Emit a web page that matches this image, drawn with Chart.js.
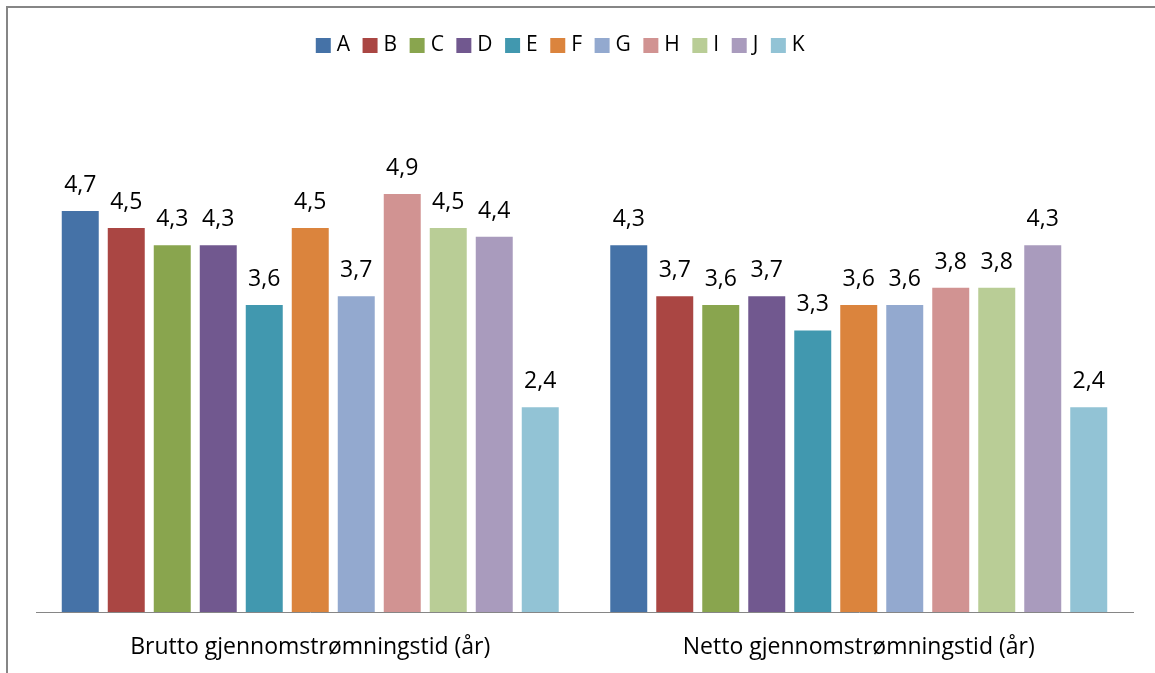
<!DOCTYPE html>
<html>
<head>
<meta charset="utf-8">
<script src="https://cdn.jsdelivr.net/npm/chart.js@4.4.1/dist/chart.umd.min.js"></script>
<style>
  html, body { margin: 0; padding: 0; background: #ffffff; }
  #wrap { width: 1155px; height: 673px; position: relative; }
</style>
</head>
<body>
<div id="wrap"><canvas id="c" width="1155" height="673"></canvas></div>
<script>
const categories = ['Brutto gjennomstrømningstid (år)', 'Netto gjennomstrømningstid (år)'];
const seriesNames = ['A', 'B', 'C', 'D', 'E', 'F', 'G', 'H', 'I', 'J', 'K'];
const seriesColors = ['#4572A7', '#AA4643', '#89A54E', '#71588F', '#4198AF', '#DB843D',
                      '#93A9CF', '#D19392', '#B9CD96', '#A99BBD', '#92C3D5'];
const bruttoValues = [4.7, 4.5, 4.3, 4.3, 3.6, 4.5, 3.7, 4.9, 4.5, 4.4, 2.4];
const nettoValues  = [4.3, 3.7, 3.6, 3.7, 3.3, 3.6, 3.6, 3.8, 3.8, 4.3, 2.4];

const FONT = '"Open Sans", "Noto Sans", sans-serif';

// one dataset per series, each holding its brutto and netto value
const datasets = seriesNames.map((name, i) => ({
  label: name,
  data: [bruttoValues[i], nettoValues[i]],
  backgroundColor: seriesColors[i],
  borderWidth: 0,
  barPercentage: 0.804,
  categoryPercentage: 0.9225
}));

// value written above each bar, with a decimal comma
const valueLabels = {
  id: 'valueLabels',
  afterDatasetsDraw(chart) {
    const ctx = chart.ctx;
    ctx.save();
    ctx.font = '23px ' + FONT;
    ctx.fillStyle = '#000000';
    ctx.textAlign = 'center';
    ctx.textBaseline = 'alphabetic';
    chart.data.datasets.forEach((ds, i) => {
      chart.getDatasetMeta(i).data.forEach((bar, j) => {
        ctx.fillText(ds.data[j].toFixed(1).replace('.', ','), bar.x, bar.y - 19);
      });
    });
    ctx.restore();
  }
};

// thin grey frame along the top and left edge
const frame = {
  id: 'frame',
  beforeDraw(chart) {
    const ctx = chart.ctx;
    ctx.save();
    ctx.strokeStyle = '#868686';
    ctx.lineWidth = 2;
    ctx.beginPath();
    ctx.moveTo(7, chart.height);
    ctx.lineTo(7, 7);
    ctx.lineTo(chart.width, 7);
    ctx.stroke();
    ctx.restore();
  }
};

// nudge the legend row a little to the left of the plot centre
const legendShift = {
  id: 'legendShift',
  afterLayout(chart) {
    if (chart.legend) {
      chart.legend.left -= 22;
      chart.legend.right -= 22;
    }
  }
};

new Chart(document.getElementById('c'), {
  type: 'bar',
  data: { labels: categories, datasets },
  plugins: [frame, valueLabels, legendShift],
  options: {
    responsive: false,
    animation: false,
    devicePixelRatio: 1,
    layout: { padding: { left: 36, right: 22, top: 18, bottom: 0 } },
    plugins: {
      legend: {
        position: 'top',
        labels: {
          boxWidth: 6,
          boxHeight: 6,
          padding: 17,
          color: '#000000',
          font: { family: FONT, size: 21 },
          // small square drawn with a thick outline of the same colour,
          // so the swatch sits closer to its letter
          generateLabels(chart) {
            return chart.data.datasets.map((ds, i) => ({
              text: ds.label,
              fillStyle: ds.backgroundColor,
              strokeStyle: ds.backgroundColor,
              lineWidth: 9,
              lineJoin: 'miter',
              hidden: !chart.isDatasetVisible(i),
              datasetIndex: i,
              fontColor: '#000000'
            }));
          }
        }
      },
      tooltip: { enabled: false }
    },
    scales: {
      x: {
        grid: { display: false, drawTicks: false },
        border: { display: true, color: '#868686', width: 1 },
        ticks: { color: '#000000', padding: 22, font: { family: FONT, size: 23 } },
        afterFit(scale) { scale.height = 61; }
      },
      y: {
        display: false,
        min: 0,
        max: 6.4
      }
    }
  }
});
</script>
</body>
</html>
